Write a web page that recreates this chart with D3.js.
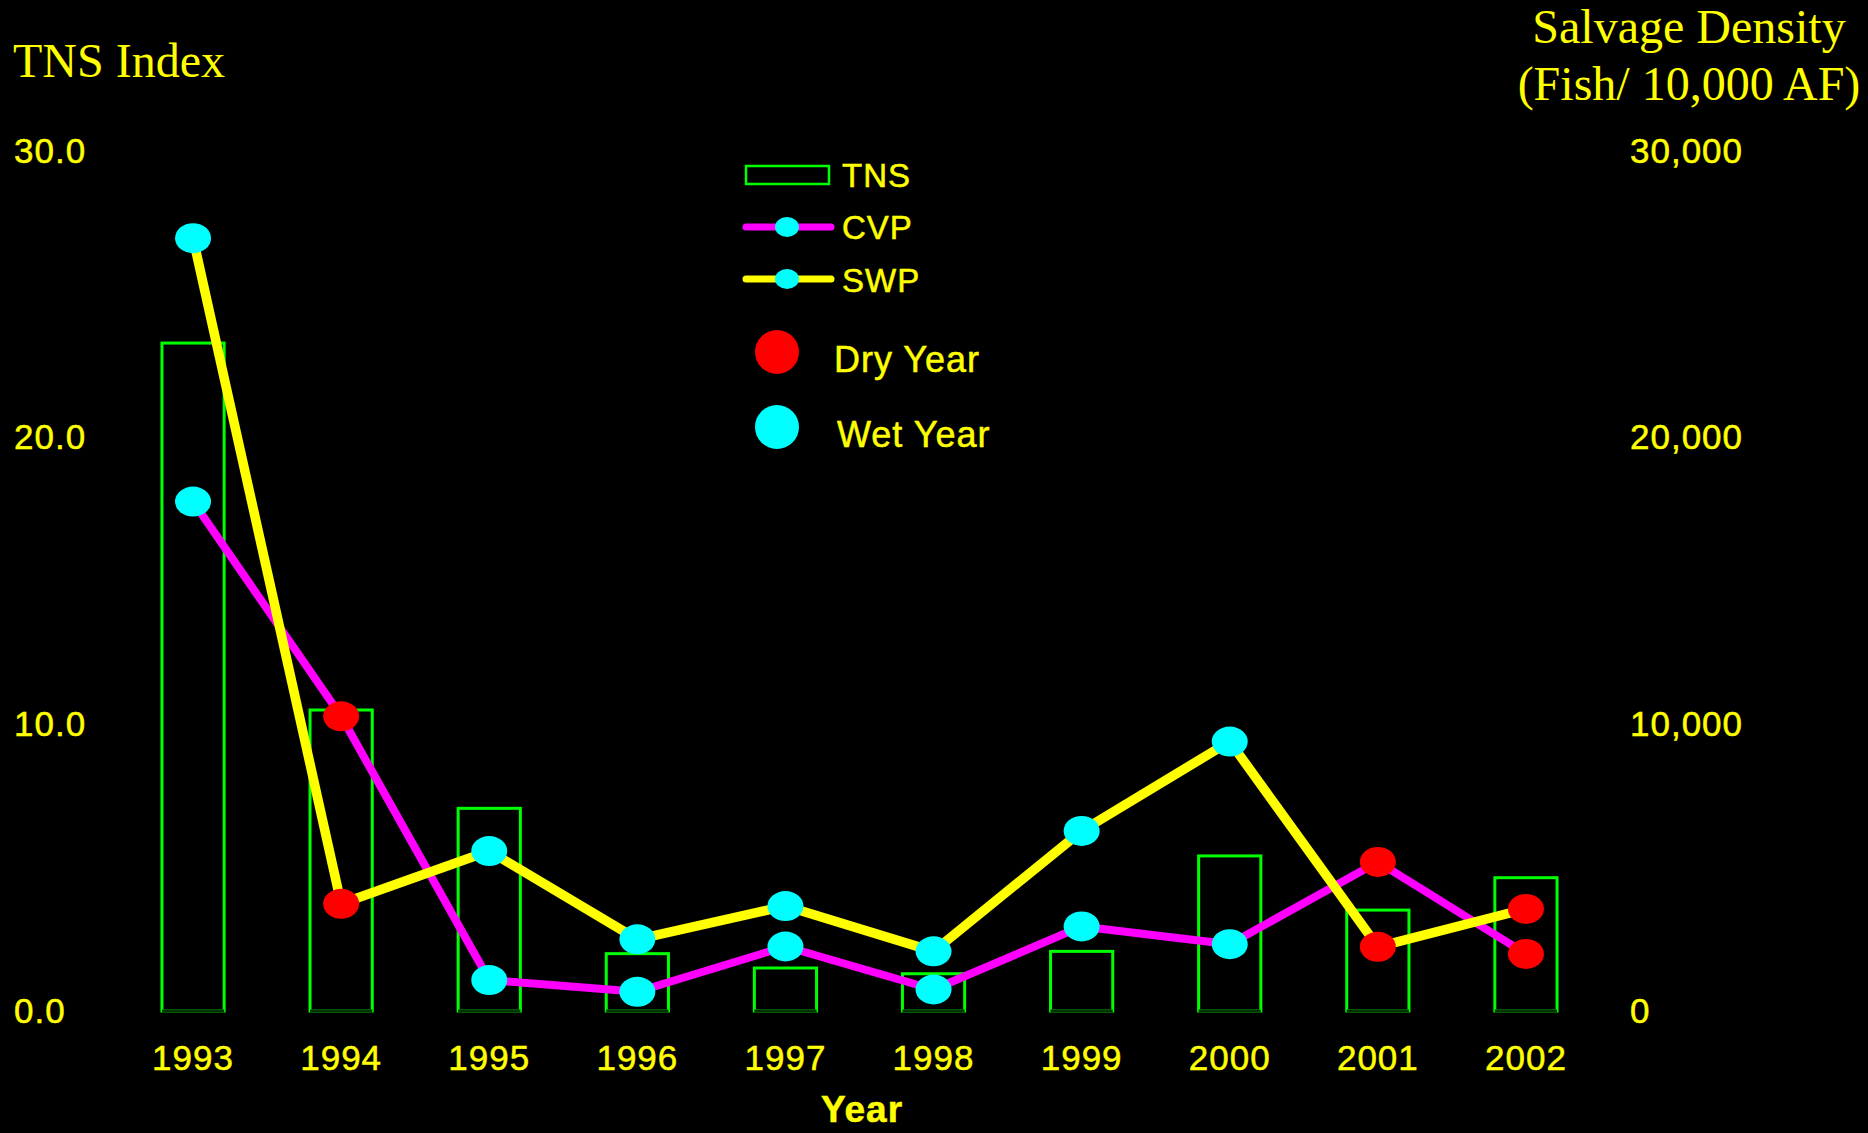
<!DOCTYPE html>
<html>
<head>
<meta charset="utf-8">
<script src="https://cdn.jsdelivr.net/npm/d3@7"></script>
<style>
  html, body { margin: 0; padding: 0; background: #000; }
  svg { display: block; }
  .sans { font-family: "Liberation Sans", Arial, sans-serif; fill: #ffff00; letter-spacing: 1px; stroke: #ffff00; stroke-width: 0.5px; }
  .serif { font-family: "Liberation Serif", "Times New Roman", serif; fill: #ffff00; }
</style>
</head>
<body>
<div id="chart"></div>
<script>
// data
var years = ["1993", "1994", "1995", "1996", "1997", "1998", "1999", "2000", "2001", "2002"];
var tns = [23.3, 10.5, 7.07, 2.0, 1.5, 1.3, 2.08, 5.41, 3.52, 4.65];
var cvp = [17770, 10280, 1080, 670, 2250, 750, 2950, 2330, 5200, 1990];
var swp = [26960, 3740, 5580, 2500, 3660, 2080, 6280, 9400, 2240, 3560];
var dryYears = ["1994", "2001", "2002"];
var leftTicks = [0, 10, 20, 30];
var rightTicks = [0, 10000, 20000, 30000];

var width = 1868, height = 1133;

var svg = d3.select("#chart")
  .append("svg")
    .attr("width", width)
    .attr("height", height)
    .style("background", "#000");

// scales
var x = d3.scaleBand()
  .domain(years)
  .range([119, 1600])
  .paddingInner(0.58)
  .paddingOuter(0.29);

var y = d3.scaleLinear().domain([0, 30]).range([1011, 151]);
var y2 = d3.scaleLinear().domain([0, 30000]).range([1011, 151]);

function cx(yr) { return x(yr) + x.bandwidth() / 2; }
function dotColor(yr) { return dryYears.includes(yr) ? "#ff0000" : "#00ffff"; }

// bars (TNS index)
var bars = years.map(function(yr, i) { return {year: yr, v: tns[i]}; });
svg.selectAll("rect.bar")
  .data(bars)
  .enter()
  .append("rect")
    .attr("class", "bar")
    .attr("x", function(d) { return x(d.year); })
    .attr("y", function(d) { return y(d.v); })
    .attr("width", x.bandwidth())
    .attr("height", function(d) { return y(0) - y(d.v); })
    .attr("fill", "none")
    .attr("stroke", "#00ff00")
    .attr("stroke-width", 3);
// dark bottom edge
svg.selectAll("line.base")
  .data(bars)
  .enter()
  .append("line")
    .attr("x1", function(d) { return x(d.year); })
    .attr("x2", function(d) { return x(d.year) + x.bandwidth(); })
    .attr("y1", y(0))
    .attr("y2", y(0))
    .attr("stroke", "#003300")
    .attr("stroke-width", 3);

// lines
var cvpPts = years.map(function(yr, i) { return {year: yr, v: cvp[i]}; });
var swpPts = years.map(function(yr, i) { return {year: yr, v: swp[i]}; });
var line = d3.line()
  .x(function(d) { return cx(d.year); })
  .y(function(d) { return y2(d.v); });

svg.append("path")
  .datum(cvpPts)
  .attr("d", line)
  .attr("fill", "none")
  .attr("stroke", "#ff00ff")
  .attr("stroke-width", 8)
  .attr("stroke-linejoin", "round");
svg.append("path")
  .datum(swpPts)
  .attr("d", line)
  .attr("fill", "none")
  .attr("stroke", "#ffff00")
  .attr("stroke-width", 9.5)
  .attr("stroke-linejoin", "round");

// markers
svg.selectAll("ellipse.dot")
  .data(cvpPts.concat(swpPts))
  .enter()
  .append("ellipse")
    .attr("class", "dot")
    .attr("cx", function(d) { return cx(d.year); })
    .attr("cy", function(d) { return y2(d.v); })
    .attr("rx", 18)
    .attr("ry", 15)
    .attr("fill", function(d) { return dotColor(d.year); });

// axes
var leftAxis = svg.append("g")
  .attr("transform", "translate(14,0)")
  .call(d3.axisRight(y).tickValues(leftTicks).tickFormat(d3.format(".1f")).tickSize(0).tickPadding(0));
var rightAxis = svg.append("g")
  .attr("transform", "translate(1630,0)")
  .call(d3.axisRight(y2).tickValues(rightTicks).tickFormat(d3.format(",")).tickSize(0).tickPadding(0));
var xAxis = svg.append("g")
  .attr("transform", "translate(0," + y(0) + ")")
  .call(d3.axisBottom(x).tickSize(0).tickPadding(34));

[leftAxis, rightAxis, xAxis].forEach(function(g) {
  g.select(".domain").remove();
  g.selectAll("text")
    .attr("class", "sans")
    .style("font-size", "35px")
    .attr("fill", "#ffff00");
});

// titles
svg.append("text")
  .attr("class", "serif")
  .attr("x", 13)
  .attr("y", 77)
  .style("font-size", "48px")
  .text("TNS Index");
svg.append("text")
  .attr("class", "serif")
  .attr("x", 1689)
  .attr("y", 43)
  .attr("text-anchor", "middle")
  .style("font-size", "48px")
  .text("Salvage Density");
svg.append("text")
  .attr("class", "serif")
  .attr("x", 1689)
  .attr("y", 100)
  .attr("text-anchor", "middle")
  .style("font-size", "48px")
  .text("(Fish/ 10,000 AF)");
svg.append("text")
  .attr("class", "sans")
  .attr("x", 862)
  .attr("y", 1122)
  .attr("text-anchor", "middle")
  .style("font-size", "37px")
  .style("font-weight", "bold")
  .text("Year");

// legend
var lg = svg.append("g");
lg.append("rect")
  .attr("x", 746).attr("y", 166).attr("width", 83).attr("height", 18)
  .attr("fill", "none").attr("stroke", "#00ff00").attr("stroke-width", 2.5);
lg.append("line")
  .attr("x1", 746).attr("x2", 831).attr("y1", 227).attr("y2", 227)
  .attr("stroke", "#ff00ff").attr("stroke-width", 7).attr("stroke-linecap", "round");
lg.append("ellipse")
  .attr("cx", 787).attr("cy", 227).attr("rx", 12).attr("ry", 10).attr("fill", "#00ffff");
lg.append("line")
  .attr("x1", 746).attr("x2", 831).attr("y1", 279).attr("y2", 279)
  .attr("stroke", "#ffff00").attr("stroke-width", 7).attr("stroke-linecap", "round");
lg.append("ellipse")
  .attr("cx", 787).attr("cy", 279).attr("rx", 12).attr("ry", 10).attr("fill", "#00ffff");
lg.append("circle").attr("cx", 777).attr("cy", 352).attr("r", 22).attr("fill", "#ff0000");
lg.append("circle").attr("cx", 777).attr("cy", 427).attr("r", 22).attr("fill", "#00ffff");

var legendText = [
  {t: "TNS", x: 842, y: 187, s: 33},
  {t: "CVP", x: 842, y: 239, s: 33},
  {t: "SWP", x: 842, y: 292, s: 33},
  {t: "Dry Year", x: 834, y: 372, s: 36},
  {t: "Wet Year", x: 837, y: 447, s: 36}
];
lg.selectAll("text")
  .data(legendText)
  .enter()
  .append("text")
    .attr("class", "sans")
    .attr("x", function(d) { return d.x; })
    .attr("y", function(d) { return d.y; })
    .style("font-size", function(d) { return d.s + "px"; })
    .text(function(d) { return d.t; });
</script>
</body>
</html>
